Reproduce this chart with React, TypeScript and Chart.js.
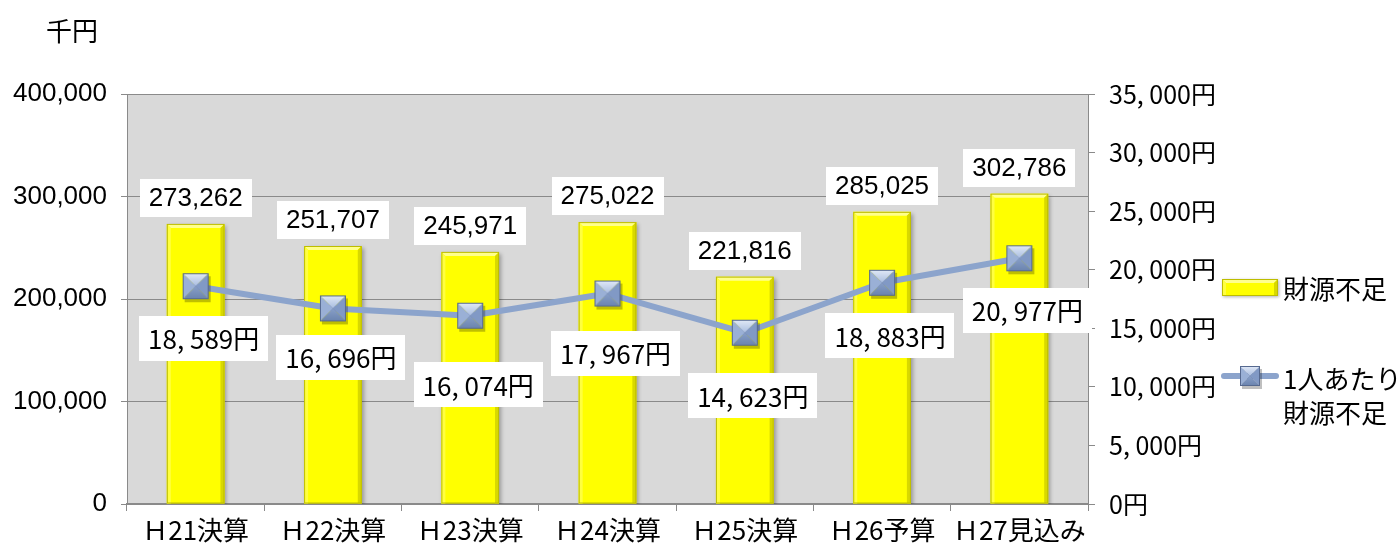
import React, { useEffect, useRef } from 'react';
import { Chart, registerables } from 'chart.js';

Chart.register(...registerables);

// ---- data ----
const categories = ['Ｈ21決算', 'Ｈ22決算', 'Ｈ23決算', 'Ｈ24決算', 'Ｈ25決算', 'Ｈ26予算', 'Ｈ27見込み'];
const shortfallThousandYen = [273262, 251707, 245971, 275022, 221816, 285025, 302786];
const perCapitaYen = [18589, 16696, 16074, 17967, 14623, 18883, 20977];
const leftAxisMax = 400000;
const leftAxisStep = 100000;
const rightAxisMax = 35000;
const rightAxisStep = 5000;
const barSeriesName = '財源不足';
const lineSeriesNameLines = ['1人あたり', '財源不足'];
const unitLabel = '千円';

// ---- style (label placement below line points, px) ----
const lineLabelDy = [52, 49, 69, 60, 63, 53, 52];
const lineLabelDx = 8;

const JP = '"Noto Sans CJK JP", "Noto Sans", sans-serif';
const LAT = '"Liberation Sans", Arial, sans-serif';
const GRID = '#8a8a8a';
const PLOT_BG = '#d9d9d9';
const LINE_COLOR = '#8ca4cc';

const fmt = (n: number) => n.toLocaleString('en-US');
const fmtYen = (n: number) => n.toLocaleString('en-US').replace(/,/g, ', ') + '円';

function makeMarker(size: number): HTMLCanvasElement {
  const pad = 4;
  const c = document.createElement('canvas');
  c.width = size + pad * 2;
  c.height = size + pad * 2;
  const g = c.getContext('2d')!;
  const x0 = pad, y0 = pad, x1 = pad + size, y1 = pad + size;
  const cx = (x0 + x1) / 2, cy = (y0 + y1) / 2;
  g.fillStyle = 'rgba(0,0,0,0.25)';
  g.fillRect(x0 + 2, y0 + 3, size, size);
  const tri = (pts: number[][], fill: string | CanvasGradient) => {
    g.beginPath();
    g.moveTo(pts[0][0], pts[0][1]);
    for (let i = 1; i < pts.length; i++) g.lineTo(pts[i][0], pts[i][1]);
    g.closePath();
    g.fillStyle = fill;
    g.fill();
  };
  const top = g.createLinearGradient(0, y0, 0, cy);
  top.addColorStop(0, '#e2eaf7');
  top.addColorStop(1, '#a9bde0');
  tri([[x0, y0], [x1, y0], [cx, cy]], top);
  tri([[x0, y0], [x0, y1], [cx, cy]], '#9ab0d6');
  tri([[x1, y0], [x1, y1], [cx, cy]], '#8199c5');
  const bot = g.createLinearGradient(0, cy, 0, y1);
  bot.addColorStop(0, '#889fc8');
  bot.addColorStop(1, '#6a83ae');
  tri([[x0, y1], [x1, y1], [cx, cy]], bot);
  g.strokeStyle = '#56698f';
  g.lineWidth = 1;
  g.strokeRect(x0 + 0.5, y0 + 0.5, size - 1, size - 1);
  return c;
}

function drawBevelBar(ctx: CanvasRenderingContext2D, left: number, top: number, right: number, bottom: number, fill: boolean) {
  const b = 4;
  if (fill) {
    ctx.fillStyle = '#ffff00';
    ctx.fillRect(left, top, right - left, bottom - top);
  }
  const poly = (pts: number[][], color: string) => {
    ctx.beginPath();
    ctx.moveTo(pts[0][0], pts[0][1]);
    for (let i = 1; i < pts.length; i++) ctx.lineTo(pts[i][0], pts[i][1]);
    ctx.closePath();
    ctx.fillStyle = color;
    ctx.fill();
  };
  poly([[left, top], [right, top], [right - b, top + b], [left + b, top + b]], '#ffff8c');
  poly([[left, top], [left + b, top + b], [left + b, bottom], [left, bottom]], '#ffff40');
  poly([[right, top], [right - b, top + b], [right - b, bottom], [right, bottom]], '#d8d800');
  ctx.strokeStyle = '#bdbd00';
  ctx.lineWidth = 1;
  ctx.strokeRect(left + 0.5, top + 0.5, right - left - 1, bottom - top - 1);
}

function labelBox(ctx: CanvasRenderingContext2D, text: string, cx: number, cy: number, font: string, padX: number, h: number) {
  ctx.font = font;
  const w = ctx.measureText(text).width + padX * 2;
  ctx.fillStyle = '#ffffff';
  ctx.fillRect(Math.round(cx - w / 2), Math.round(cy - h / 2), Math.round(w), h);
  ctx.fillStyle = '#000000';
  ctx.textAlign = 'center';
  ctx.textBaseline = 'middle';
  ctx.fillText(text, cx, cy + 1);
}

export default function App() {
  const ref = useRef<HTMLCanvasElement>(null);

  useEffect(() => {
    const marker = makeMarker(26);
    const legendMarker = makeMarker(20);

    const bgPlugin = {
      id: 'plotBg',
      beforeDraw(chart: any) {
        const { ctx, chartArea: a } = chart;
        ctx.save();
        ctx.fillStyle = '#ffffff';
        ctx.fillRect(0, 0, chart.width, chart.height);
        ctx.fillStyle = PLOT_BG;
        ctx.fillRect(a.left, a.top, a.right - a.left, a.bottom - a.top);
        ctx.restore();
      },
      beforeDatasetDraw(chart: any, args: any) {
        if (args.meta.type === 'bar') {
          const ctx = chart.ctx;
          ctx.save();
          ctx.shadowColor = 'rgba(0,0,0,0.3)';
          ctx.shadowBlur = 4;
          ctx.shadowOffsetX = 2;
          ctx.shadowOffsetY = 2;
        }
      },
      afterDatasetDraw(chart: any, args: any) {
        if (args.meta.type === 'bar') {
          const ctx = chart.ctx;
          ctx.restore();
          ctx.save();
          args.meta.data.forEach((el: any) => {
            const p = el.getProps(['x', 'y', 'base', 'width'], true);
            drawBevelBar(ctx, p.x - p.width / 2, p.y, p.x + p.width / 2, p.base, false);
          });
          ctx.restore();
        }
      },
    };

    const labelsPlugin = {
      id: 'labelsAndLegend',
      afterDatasetsDraw(chart: any) {
        const ctx = chart.ctx;
        ctx.save();
        const barMeta = chart.getDatasetMeta(1);
        barMeta.data.forEach((el: any, i: number) => {
          labelBox(ctx, fmt(shortfallThousandYen[i]), el.x, el.y - 26, `26px ${LAT}`, 9, 38);
        });
        const lineMeta = chart.getDatasetMeta(0);
        lineMeta.data.forEach((el: any, i: number) => {
          labelBox(ctx, fmtYen(perCapitaYen[i]), el.x + lineLabelDx, el.y + lineLabelDy[i], `26px ${JP}`, 9, 45);
        });

        // unit label
        ctx.fillStyle = '#000';
        ctx.font = `26px ${JP}`;
        ctx.textAlign = 'center';
        ctx.textBaseline = 'middle';
        ctx.fillText(unitLabel, 72, 31);

        // legend
        const lx = 1222;
        ctx.save();
        ctx.shadowColor = 'rgba(0,0,0,0.3)';
        ctx.shadowBlur = 3;
        ctx.shadowOffsetX = 1;
        ctx.shadowOffsetY = 1;
        ctx.fillStyle = '#ffff00';
        ctx.fillRect(lx, 279, 56, 17);
        ctx.restore();
        drawBevelBar(ctx, lx, 279, lx + 56, 296, true);
        ctx.fillStyle = '#000';
        ctx.font = `26px ${JP}`;
        ctx.textAlign = 'left';
        ctx.textBaseline = 'middle';
        ctx.fillText(barSeriesName, 1283, 289);

        ctx.strokeStyle = LINE_COLOR;
        ctx.lineWidth = 6;
        ctx.lineCap = 'round';
        ctx.beginPath();
        ctx.moveTo(1224, 376);
        ctx.lineTo(1276, 376);
        ctx.stroke();
        ctx.drawImage(legendMarker, 1250 - legendMarker.width / 2, 376 - legendMarker.height / 2);
        ctx.fillStyle = '#000';
        ctx.fillText(lineSeriesNameLines[0], 1283, 379);
        ctx.fillText(lineSeriesNameLines[1], 1283, 413);
        ctx.restore();
      },
    };

    const chart = new Chart(ref.current!, {
      type: 'bar',
      data: {
        labels: categories,
        datasets: [
          {
            type: 'line',
            label: lineSeriesNameLines.join(''),
            data: perCapitaYen,
            yAxisID: 'y1',
            borderColor: LINE_COLOR,
            borderWidth: 6,
            borderCapStyle: 'round',
            borderJoinStyle: 'round',
            pointStyle: marker as any,
            pointRadius: 13,
            tension: 0,
            order: 0,
          } as any,
          {
            type: 'bar',
            label: barSeriesName,
            data: shortfallThousandYen,
            yAxisID: 'y',
            backgroundColor: '#ffff00',
            borderWidth: 0,
            categoryPercentage: 1,
            barPercentage: 0.42,
            order: 1,
          } as any,
        ],
      },
      options: {
        responsive: false,
        animation: false,
        devicePixelRatio: 1,
        layout: { padding: { top: 94, left: 0, right: 0, bottom: 0 } },
        plugins: {
          legend: { display: false },
          tooltip: { enabled: false },
          title: { display: false },
        },
        scales: {
          x: {
            type: 'category',
            offset: true,
            grid: {
              offset: true,
              drawOnChartArea: false,
              drawTicks: true,
              tickLength: 7,
              color: GRID,
              lineWidth: 1,
            },
            border: { color: GRID, width: 2 },
            ticks: {
              color: '#000',
              font: { family: JP, size: 26 },
              padding: 4,
              autoSkip: false,
              maxRotation: 0,
            },
            afterFit(scale: any) {
              scale.height = 43;
            },
          },
          y: {
            position: 'left',
            min: 0,
            max: leftAxisMax,
            ticks: {
              stepSize: leftAxisStep,
              color: '#000',
              font: { family: LAT, size: 26 },
              padding: 14,
              callback: (v: any) => fmt(Number(v)),
            },
            grid: { color: GRID, lineWidth: 1, tickLength: 6 },
            border: { color: GRID, width: 1 },
            afterFit(scale: any) {
              scale.width = 127;
            },
          },
          y1: {
            position: 'right',
            min: 0,
            max: rightAxisMax,
            ticks: {
              stepSize: rightAxisStep,
              color: '#000',
              font: { family: JP, size: 25 },
              padding: 14,
              callback: (v: any) => fmtYen(Number(v)),
            },
            grid: { drawOnChartArea: false, color: GRID, tickLength: 7 },
            border: { color: GRID, width: 1 },
            afterFit(scale: any) {
              scale.width = 312;
            },
          },
        },
      } as any,
      plugins: [bgPlugin, labelsPlugin],
    });
    return () => chart.destroy();
  }, []);

  return (
    <div style={{ position: 'fixed', left: 0, top: 0, width: 1400, height: 547, background: '#fff' }}>
      <canvas ref={ref} width={1400} height={547} style={{ display: 'block', width: 1400, height: 547 }} />
    </div>
  );
}
